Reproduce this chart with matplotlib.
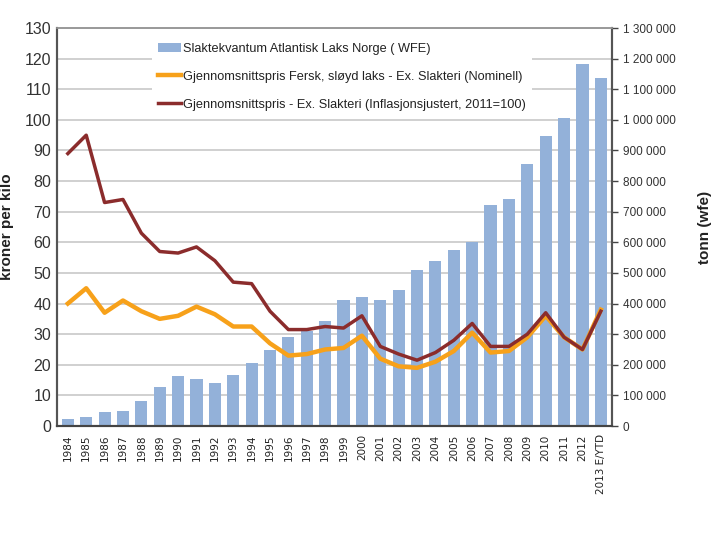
import matplotlib
matplotlib.use("Agg")
import matplotlib.pyplot as plt
import numpy as np
from matplotlib.ticker import FuncFormatter, MultipleLocator

years = ["1984", "1985", "1986", "1987", "1988", "1989", "1990", "1991", "1992", "1993",
         "1994", "1995", "1996", "1997", "1998", "1999", "2000", "2001", "2002", "2003",
         "2004", "2005", "2006", "2007", "2008", "2009", "2010", "2011", "2012", "2013 E/YTD"]

volume_tonn = [22000, 30000, 45000, 48000, 82000, 126000, 163000, 155000, 140000, 168000,
               206000, 248000, 292000, 310000, 342000, 410000, 420000, 410000, 443000, 510000,
               538000, 575000, 600000, 723000, 740000, 857000, 948000, 1006000, 1183000, 1138000]

price_nominal = [40, 45, 37, 41, 37.5, 35, 36, 39, 36.5, 32.5,
                 32.5, 27, 23, 23.5, 25, 25.5, 29.5, 22, 19.5, 19,
                 21, 24.5, 30.5, 24, 24.5, 29, 36, 29, 25, 38]

price_real = [89, 95, 73, 74, 63, 57, 56.5, 58.5, 54, 47,
              46.5, 37.5, 31.5, 31.5, 32.5, 32, 36, 26, 23.5, 21.5,
              24, 28, 33.5, 26, 26, 30, 37, 29, 25, 37.5]

label_bars = "Slaktekvantum Atlantisk Laks Norge ( WFE)"
label_nom = "Gjennomsnittspris Fersk, sløyd laks - Ex. Slakteri (Nominell)"
label_real = "Gjennomsnittspris - Ex. Slakteri (Inflasjonsjustert, 2011=100)"

FONT = ["Liberation Sans", "DejaVu Sans"]

fig = plt.figure(figsize=(7.19, 5.55), dpi=100)
ax1 = fig.add_axes([0.079, 0.2324, 0.772, 0.7171])
x = np.arange(len(years))

bar_color = "#93B1D9"
bars = ax1.bar(x, volume_tonn, width=0.66, color=bar_color, zorder=2, label=label_bars)
ax1.set_ylim(0, 1300000)
ax1.set_xlim(-0.6, len(years) - 0.4)
ax1.grid(axis="y", color="#C8C8C8", linewidth=1.2, zorder=0)
ax1.set_axisbelow(True)

ax2 = ax1.twinx()
# bars axis ticks on the right, price axis ticks on the left
ax1.yaxis.tick_right()
ax1.yaxis.set_label_position("right")
ax2.yaxis.tick_left()
ax2.yaxis.set_label_position("left")

ax1.yaxis.set_major_locator(MultipleLocator(100000))
ax1.yaxis.set_major_formatter(FuncFormatter(lambda v, p: f"{int(v):,}".replace(",", " ")))
ax1.set_ylabel("tonn (wfe)", fontsize=11, fontweight="bold", labelpad=16,
               family=FONT, color="#222222")

l1, = ax2.plot(x, price_nominal, color="#F7A11A", linewidth=3.2, label=label_nom, zorder=3)
l2, = ax2.plot(x, price_real, color="#8B2C2C", linewidth=2.5, label=label_real, zorder=4)
ax2.set_ylim(0, 130)
ax2.yaxis.set_major_locator(MultipleLocator(10))
ax2.set_ylabel("kroner per kilo", fontsize=11, fontweight="bold", labelpad=8,
               family=FONT, color="#222222")

for lab in ax2.get_yticklabels():
    lab.set_family(FONT)
    lab.set_fontsize(11.5)
    lab.set_color("#333333")
for lab in ax1.get_yticklabels():
    lab.set_family(FONT)
    lab.set_fontsize(8.5)
    lab.set_color("#333333")

ax1.set_xticks(x)
ax1.set_xticklabels(years, rotation=90, fontsize=7.5, color="#222222",
                    family=["DejaVu Sans"])
ax1.tick_params(axis="x", length=0, pad=6)
ax1.tick_params(axis="y", length=4, color="#444444", width=1, pad=4)
ax2.tick_params(axis="y", length=0, pad=4)

for a in (ax1, ax2):
    a.spines["left"].set_color("#555555")
    a.spines["left"].set_linewidth(1.5)
    a.spines["right"].set_color("#555555")
    a.spines["right"].set_linewidth(1.5)
    a.spines["bottom"].set_color("#444444")
    a.spines["bottom"].set_linewidth(1.5)
    a.spines["top"].set_color("#999999")
    a.spines["top"].set_linewidth(1.2)

leg = ax2.legend(handles=[bars, l1, l2], loc="upper left",
                 bbox_to_anchor=(0.16, 0.995), frameon=True, facecolor="white",
                 edgecolor="none", framealpha=1, fancybox=False,
                 prop={"family": FONT, "size": 9.2}, handlelength=1.8,
                 handletextpad=0.1, labelspacing=1.25, borderpad=0.5)
leg.set_zorder(10)
for t in leg.get_texts():
    t.set_color("#222222")

fig.savefig("out.png", dpi=100, facecolor="white")
